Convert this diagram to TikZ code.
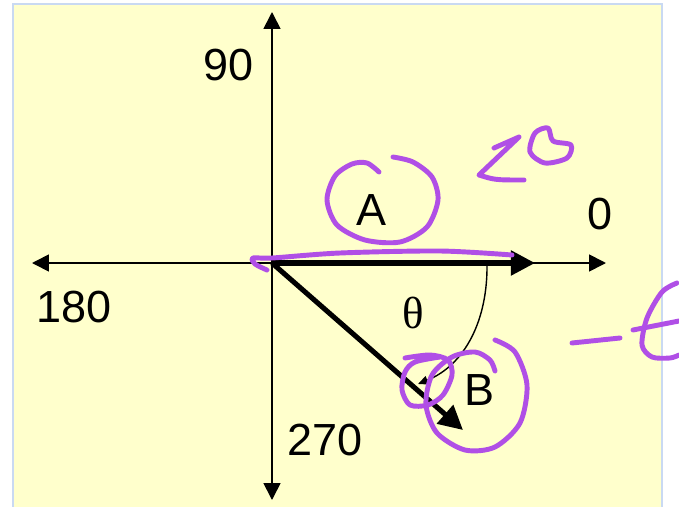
\documentclass[tikz,border=0pt]{standalone}
\usepackage{fontspec}
\setmainfont{Liberation Sans}
\newfontfamily\thetafont{Liberation Serif}
\usepackage{xcolor}
\usepackage{tikz}
\usetikzlibrary{arrows.meta}
\definecolor{padyellow}{HTML}{FFFFCC}
\definecolor{padedge}{HTML}{C9D9F2}
\definecolor{inkpurple}{HTML}{B04FE6}

\begin{document}
\begin{tikzpicture}[x=0.025cm, y=-0.025cm,
  axis/.style={line width=1.2pt, {Triangle[length=0.42cm, width=0.42cm]}-{Triangle[length=0.42cm, width=0.42cm]}},
  vec/.style={line width=3.6pt, -{Triangle[length=0.6cm, width=0.6cm]}},
  lbl/.style={font=\fontsize{32}{38}\selectfont, inner sep=0pt},
  ink/.style={inkpurple, line width=3.5pt, line cap=round, line join=round},
]
  \useasboundingbox (0,0) rectangle (679,507);
  \fill[white] (0,0) rectangle (679,507);
  \filldraw[fill=padyellow, draw=padedge, line width=0.8pt] (13,4) rectangle (662,520);

  % Axes and vectors
  \coordinate (O) at (272,263);
  \coordinate (east) at (606,263);
  \coordinate (west) at (32,263);
  \coordinate (north) at (272,12);
  \coordinate (south) at (272,500);
  \coordinate (Atip) at (535,263);
  \coordinate (Btip) at (463,430);
  \coordinate (arcstart) at (487,263);
  \coordinate (arcend) at (418,384);

  \draw[axis] (west) -- (east);
  \draw[axis] (south) -- (north);
  \draw[vec] (O) -- (Atip);
  \draw[vec] (O) -- (Btip);
  \draw[line width=1pt, -{Triangle[length=0.25cm, width=0.22cm]}]
    (arcstart) .. controls (488,320) and (465,365) .. (arcend);

  % Labels
  \node[lbl] (n90) at (229,65) {90};
  \node[lbl] (n0) at (600,214) {0};
  \node[lbl] (n180) at (74,307) {180};
  \node[lbl] (n270) at (325,440) {270};
  \node[lbl] (labA) at (372,210) {A};
  \node[lbl] (labB) at (480,390) {B};
  \node[lbl, font=\thetafont\fontsize{32}{38}\selectfont] (theta) at (413,313) {θ};

  % Handwritten marks
  \draw[ink] plot[smooth] coordinates {(379,172) (367,163) (352,164) (335,176) (327,200) (337,225) (365,240) (400,242) (427,227) (438,200) (432,177) (413,162) (393,157)};
  \draw[ink] plot[smooth] coordinates {(267,270) (255,264) (253,258) (272,258) (340,253) (440,251) (512,255)};
  \draw[ink] (494,148) -- (519,137) -- (479,175) .. controls (495,180) .. (524,180);
  \draw[ink] plot[smooth cycle] coordinates {(530,152) (535,133) (548,128) (553,141) (571,145) (567,158) (545,163)};
  \draw[ink] plot[smooth] coordinates {(405,358) (430,355) (448,360) (452,375) (443,395) (428,405) (410,405) (402,390) (405,372) (415,362) (440,357)};
  \draw[ink] plot[smooth] coordinates {(495,340) (515,352) (527,385) (520,423) (495,447) (465,450) (437,433) (426,405) (432,375) (452,357) (475,352) (490,360) (495,371)};
  \draw[ink] (572,343) -- (620,338);
  \draw[ink] plot[smooth] coordinates {(677,283) (662,292) (647,318) (642,345) (652,357) (670,358) (679,355)};
  \draw[ink] (633,330) -- (679,321);
\end{tikzpicture}
\end{document}
